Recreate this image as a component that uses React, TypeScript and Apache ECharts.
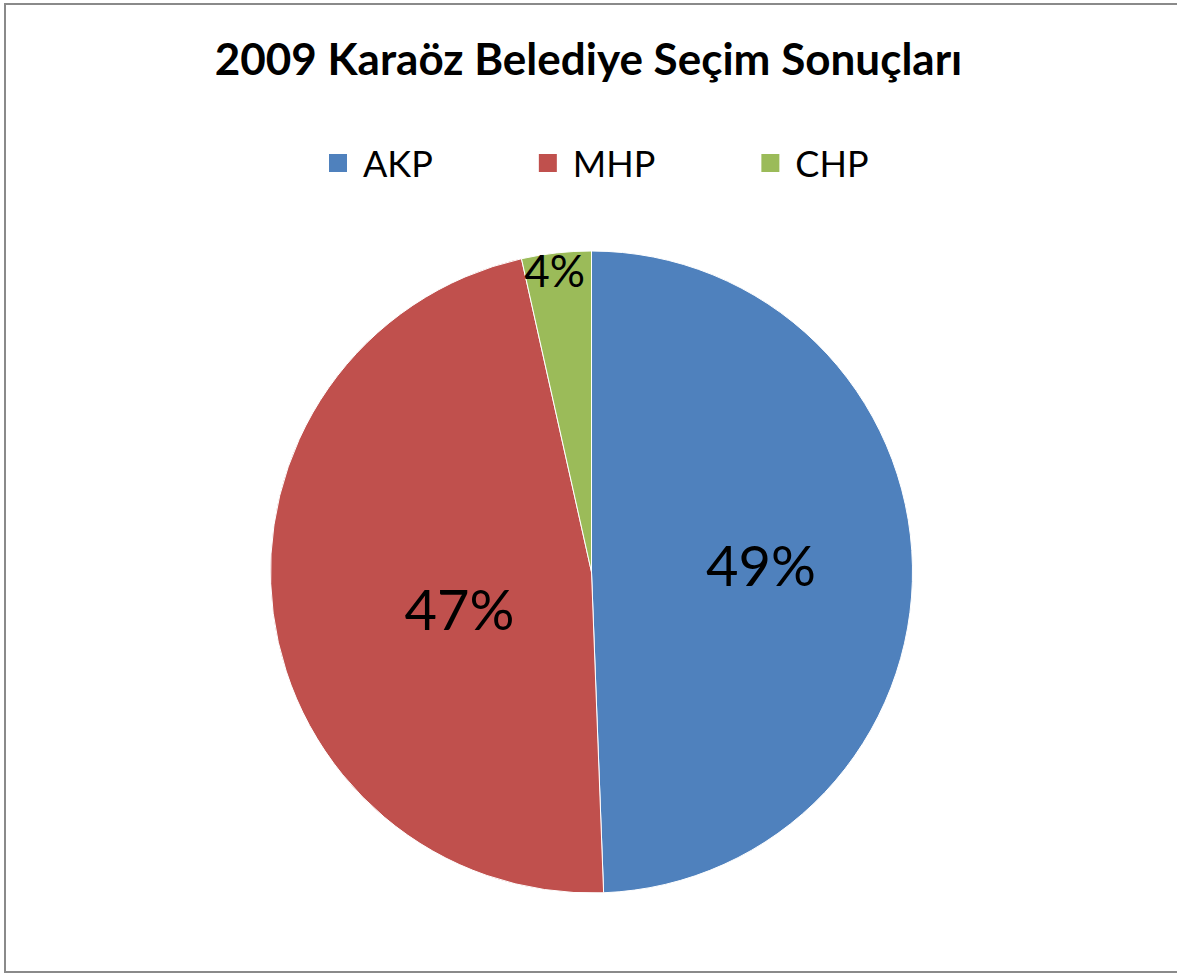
import React, { useEffect, useRef } from "react";
import * as echarts from "echarts";

const categories = ["AKP", "MHP", "CHP"];
const shares = [49.4, 47.1, 3.5];
const colors = ["#4F81BD", "#C0504D", "#9BBB59"];
const titleText = "2009 Karaöz Belediye Seçim Sonuçları";

const labelOffsets: [number, number][] = [
  [6, -4],
  [30, 15],
  [-19, -139],
];
const labelSizes = [56, 56, 44];

export default function App() {
  const ref = useRef<HTMLDivElement>(null);
  useEffect(() => {
    if (!ref.current) return;
    const chart = echarts.init(ref.current, null, { renderer: "svg" });
    const total = shares.reduce((a, b) => a + b, 0);
    chart.setOption({
      animation: false,
      backgroundColor: "#ffffff",
      title: {
        text: titleText,
        left: "center",
        top: 31,
        textStyle: {
          fontFamily: "Lato",
          fontWeight: "bold",
          fontSize: 44,
          color: "#000",
        },
      },
      legend: {
        data: categories,
        top: 140,
        left: 322,
        itemWidth: 20,
        itemHeight: 20,
        itemGap: 104,
        icon: "rect",
        textStyle: {
          fontFamily: "Lato",
          fontSize: 36,
          color: "#000",
          padding: [0, 0, 0, 10],
        },
      },
      graphic: [
        {
          type: "rect",
          shape: { x: 5, y: 4, width: 1220, height: 968 },
          style: { fill: "none", stroke: "#8a8a8a", lineWidth: 2 },
          silent: true,
        },
      ],
      series: [
        {
          type: "pie",
          center: [591.5, 572],
          radius: 321,
          startAngle: 90,
          clockwise: true,
          itemStyle: { borderColor: "#ffffff", borderWidth: 1 },
          label: {
            show: true,
            position: "inside",
            fontFamily: "Lato",
            color: "#000",
            formatter: (p: any) => Math.round((p.value / total) * 100) + "%",
          },
          labelLine: { show: false },
          labelLayout: (p: any) => ({
            dx: labelOffsets[p.dataIndex][0],
            dy: labelOffsets[p.dataIndex][1],
          }),
          emphasis: { disabled: true },
          data: categories.map((c, i) => ({
            name: c,
            value: shares[i],
            itemStyle: { color: colors[i] },
            label: { fontSize: labelSizes[i] },
          })),
        },
      ],
    });
    return () => chart.dispose();
  }, []);
  return (
    <div
      ref={ref}
      style={{ position: "absolute", left: 0, top: 0, width: 1177, height: 974 }}
    />
  );
}
